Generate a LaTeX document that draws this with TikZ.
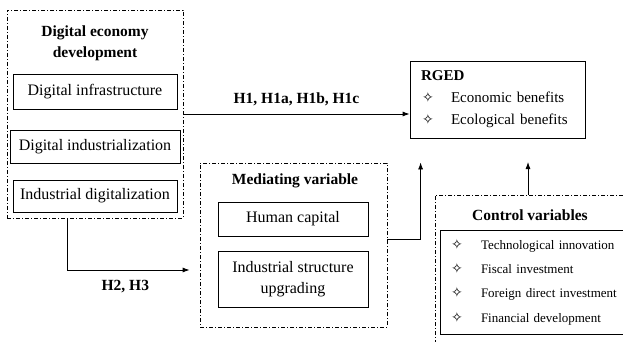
\documentclass[tikz,border=0pt]{standalone}
\usepackage{fontspec}
\setmainfont{Liberation Serif}
\newfontfamily\symfont{DejaVu Sans}
\usetikzlibrary{arrows.meta}
\newcommand{\dmd}[1]{\makebox[#1][l]{\hspace{1pt}\symfont\fontsize{14}{14}\selectfont ✧}}
\begin{document}
\begin{tikzpicture}[x=1pt, y=-1pt, line width=0.8pt,
    every node/.style={font=\fontsize{16}{21}\selectfont, inner sep=0pt},
    dashbox/.style={draw, dash pattern=on 4pt off 2pt on 1pt off 2pt},
    itembox/.style={draw, align=center},
    title/.style={font=\fontsize{15.5}{21}\selectfont\bfseries, align=center},
    arr/.style={-{Latex[length=7pt,width=5pt]}}]
    \useasboundingbox (0,0) rectangle (623,342);
    \clip (0,0) rectangle (623,342);
    \node [dashbox, minimum width=176pt, minimum height=208pt] (ded) at (95,114) {};
    \node [title] (dedtitle) at (95,43) {Digital economy\\development};
    \node [itembox, minimum width=164pt, minimum height=35pt] (infra) at (95,91.5) {Digital infrastructure};
    \node [itembox, minimum width=170pt, minimum height=33pt] (indz) at (95,146.5) {Digital industrialization};
    \node [itembox, minimum width=164pt, minimum height=32pt] (indd) at (95,196) {Industrial digitalization};
    \node [draw, align=left, minimum width=175pt, minimum height=77pt, text width=153pt, inner xsep=11pt,
        font=\fontsize{15}{22}\selectfont] (rged) at (497.5,99.5)
        {\textbf{RGED}\\\dmd{30pt}Economic benefits\\\dmd{30pt}Ecological benefits};
    \node [dashbox, minimum width=187pt, minimum height=164pt] (med) at (293.5,245) {};
    \node [title] (medtitle) at (295,181) {Mediating variable};
    \node [itembox, minimum width=150pt, minimum height=34pt] (hc) at (293,219) {Human capital};
    \node [itembox, minimum width=150pt, minimum height=56pt] (isu) at (293,279) {Industrial structure\\upgrading};
    \node [dashbox, minimum width=205pt, minimum height=165pt] (ctrl) at (537.5,277.5) {};
    \node [title] (ctrltitle) at (530,215) {Control variables};
    \node [draw, align=left, minimum width=200pt, minimum height=104pt, text width=180pt, inner xsep=10pt,
        font=\fontsize{13}{24.3}\selectfont] (ctrlin) at (540,282)
        {\dmd{31pt}Technological innovation\\\dmd{31pt}Fiscal investment\\\dmd{31pt}Foreign direct investment\\\dmd{31pt}Financial development};
    \coordinate (ctrltip) at (528,162);
    \draw [arr] (ded.east) -- node [title, above=8pt] (h1) {H1, H1a, H1b, H1c} (ded.east -| rged.west);
    \draw [arr, shorten >=10pt] ([xshift=-28pt]ded.south) |- node [title, pos=0.72, below=10pt] (h2) {H2, H3} ([yshift=-25pt]med.west);
    \draw [arr, shorten >=24pt] ([yshift=6pt]med.east) -| ([xshift=11pt]rged.south west);
    \draw [arr] (ctrl.north -| ctrltip) -- (ctrltip);
\end{tikzpicture}
\end{document}
